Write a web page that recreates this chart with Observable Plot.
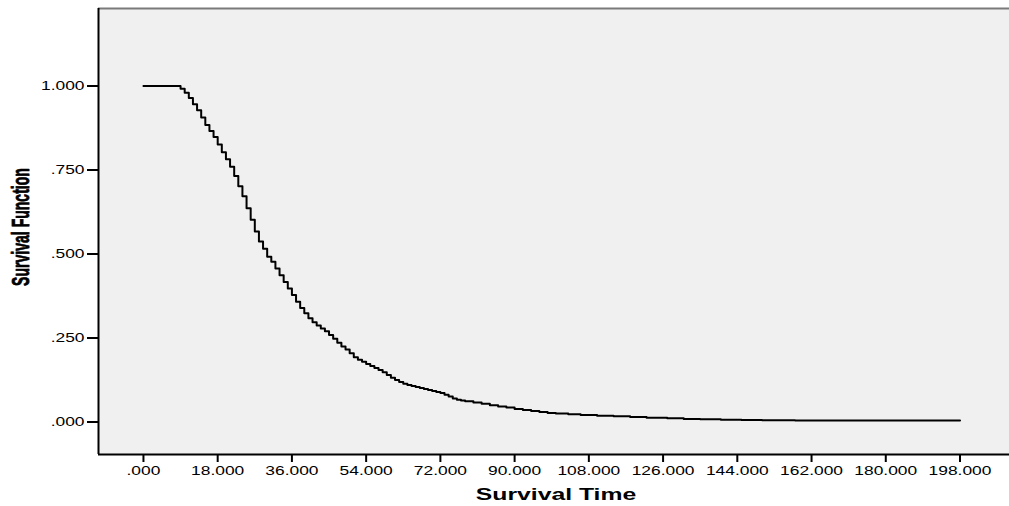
<!DOCTYPE html>
<html>
<head>
<meta charset="utf-8">
<script src="https://cdn.jsdelivr.net/npm/d3@7"></script>
<script src="https://cdn.jsdelivr.net/npm/@observablehq/plot@0.6"></script>
<style>
  html, body { margin: 0; padding: 0; background: #ffffff; }
  #chart { width: 1009px; height: 506px; }
</style>
</head>
<body>
<div id="chart"></div>
<script>
// Kaplan–Meier survival estimate: step times and survival values
const times = [0, 9, 10, 11, 12, 13, 14, 15, 16, 17, 18, 19, 20, 21, 22, 23, 24, 25, 26, 27, 28, 29,
  30, 31, 32, 33, 34, 35, 36, 37, 38, 39, 40, 41, 42, 43, 44, 45, 46, 47, 48, 49, 50, 51, 52, 53,
  54, 55, 56, 57, 58, 59, 60, 61, 62, 63, 64, 65, 66, 67, 68, 69, 70, 71, 72, 73, 74, 75, 76, 77,
  78, 80, 82, 84, 86, 88, 90, 92, 94, 96, 98, 100, 103, 106, 110, 114, 118, 122, 127, 131, 135,
  140, 145, 150, 158, 198];
const survival = [1.000, 0.992, 0.980, 0.964, 0.946, 0.928, 0.906, 0.884, 0.866, 0.848, 0.826, 0.803,
  0.782, 0.760, 0.732, 0.702, 0.672, 0.636, 0.602, 0.567, 0.537, 0.516, 0.492, 0.477, 0.457, 0.437,
  0.417, 0.397, 0.378, 0.358, 0.339, 0.324, 0.309, 0.297, 0.287, 0.278, 0.270, 0.259, 0.248, 0.236,
  0.225, 0.216, 0.205, 0.193, 0.185, 0.179, 0.173, 0.167, 0.161, 0.155, 0.148, 0.140, 0.132, 0.125,
  0.119, 0.114, 0.110, 0.107, 0.104, 0.101, 0.098, 0.095, 0.092, 0.089, 0.086, 0.081, 0.076, 0.070,
  0.066, 0.064, 0.062, 0.058, 0.054, 0.050, 0.046, 0.043, 0.039, 0.036, 0.033, 0.030, 0.027, 0.025,
  0.023, 0.021, 0.019, 0.017, 0.015, 0.013, 0.011, 0.009, 0.008, 0.007, 0.0062, 0.0055, 0.0045, 0.0045];

const xTicks = [0, 18, 36, 54, 72, 90, 108, 126, 144, 162, 180, 198];
const xTickLabels = [".000", "18.000", "36.000", "54.000", "72.000", "90.000", "108.000",
  "126.000", "144.000", "162.000", "180.000", "198.000"];
const yTicks = [0, 0.25, 0.5, 0.75, 1];
const yTickLabels = [".000", ".250", ".500", ".750", "1.000"];

const xTitle = "Survival Time";
const yTitle = "Survival Function";

const xDomain = [-10.9, 210];
const yDomain = [-0.0967, 1.2307];

const data = times.map((t, i) => ({t, s: survival[i]}));

const chart = Plot.plot({
  width: 1009,
  height: 506,
  marginLeft: 98,
  marginRight: 0,
  marginTop: 8,
  marginBottom: 52,
  x: {domain: xDomain},
  y: {domain: yDomain},
  style: {background: "#ffffff", color: "#000", fontFamily: "'Liberation Sans', Arial, sans-serif"},
  marks: [
    Plot.frame({fill: "#f0f0f0", stroke: "none"}),
    Plot.ruleY([yDomain[1]], {stroke: "#7a7a7a", strokeWidth: 2}),
    Plot.axisX({
      ticks: xTicks,
      tickFormat: (d) => xTickLabels[xTicks.indexOf(d)],
      tickSize: 8, tickPadding: 4, fontSize: 12, strokeWidth: 2,
      label: null
    }),
    Plot.axisY({
      ticks: yTicks,
      tickFormat: (d) => yTickLabels[yTicks.indexOf(d)],
      tickSize: 11, tickPadding: 3, fontSize: 12, strokeWidth: 2,
      label: null
    }),
    Plot.ruleX([xDomain[0]], {stroke: "#000", strokeWidth: 2}),
    Plot.ruleY([yDomain[0]], {stroke: "#000", strokeWidth: 2}),
    Plot.line(data, {x: "t", y: "s", curve: "step-after", stroke: "#000", strokeWidth: 2}),
    Plot.text([xTitle], {text: (d) => d, frameAnchor: "bottom", dy: 45, dx: 2,
      fontSize: 16.5, fontWeight: "bold", fill: "#000"}),
    Plot.text([yTitle], {text: (d) => d, frameAnchor: "left", textAnchor: "middle", lineAnchor: "middle",
      rotate: -90, dx: -77, dy: -4.5,
      fontSize: 24, fontWeight: "bold", fill: "#000", stroke: "#000", strokeWidth: 0.8})
  ]
});

document.getElementById("chart").appendChild(chart);

// Stretch/condense text along its baseline to mimic the SPSS rendering
function stretch(textEl, s) {
  let tr = textEl.getAttribute("transform");
  if (tr) {
    textEl.setAttribute("transform", tr + ` scale(${s},1)`);
  } else {
    const x = +(textEl.getAttribute("x") || 0), y = +(textEl.getAttribute("y") || 0);
    textEl.removeAttribute("x"); textEl.removeAttribute("y");
    textEl.setAttribute("transform", `translate(${x},${y}) scale(${s},1)`);
  }
}
const tickSet = new Set([...xTickLabels, ...yTickLabels]);
chart.querySelectorAll("text").forEach((t) => {
  const c = t.textContent.trim();
  if (tickSet.has(c)) stretch(t, 1.45);
  else if (c === xTitle) stretch(t, 1.5);
  else if (c === yTitle) stretch(t, 0.585);
});
</script>
</body>
</html>
